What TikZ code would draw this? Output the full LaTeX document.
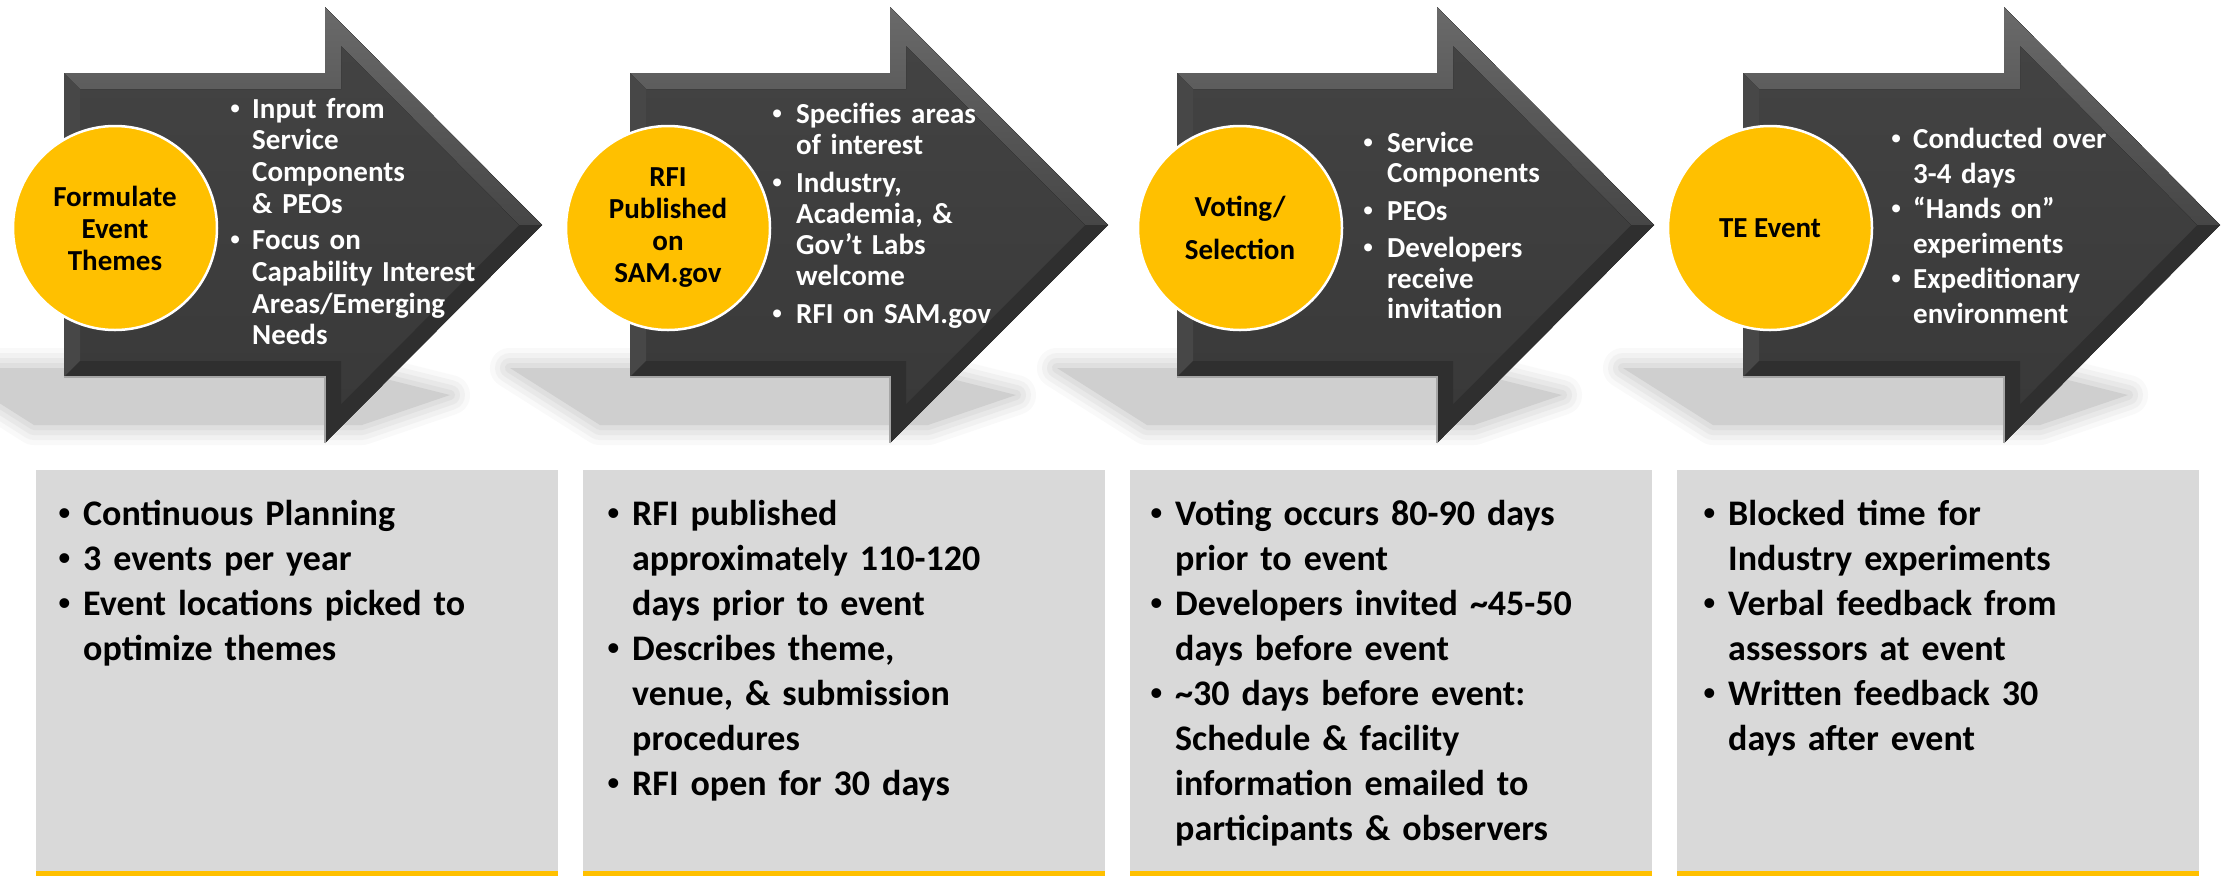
\documentclass[tikz,border=0pt]{standalone}
\usepackage{fontspec}
\setmainfont{Carlito}
\newfontfamily\bulfont{Liberation Sans}
\definecolor{gold}{HTML}{FFC000}
\definecolor{facetop}{HTML}{444444}
\definecolor{facebot}{HTML}{383838}
\definecolor{beveltop}{HTML}{6A6A6A}
\definecolor{bevelmid}{HTML}{464646}
\definecolor{bevelleft}{HTML}{474747}
\definecolor{bevelbot}{HTML}{2F2F2F}
\definecolor{boxgray}{HTML}{D9D9D9}
\definecolor{shadowgray}{HTML}{CFCFCF}
\newlength{\bw}
\newcommand{\bul}{\makebox[\bw][l]{{\bulfont\mdseries\textbullet}}}
\newcommand{\ind}{\hspace*{\bw}}
\newcommand{\arrowshadow}[2]{%
  \foreach \w/\o in {40/0.12,30/0.18,20/0.25,10/0.35}{%
    \draw[shadowgray, line width=\w pt, line join=round, opacity=\o]
      ({#1-120},368) -- ({#2-200},368) -- ({#2-92},395) -- ({#2-180},425) -- ({#1-30},425) -- cycle;}
  \fill[shadowgray] ({#1-120},368) -- ({#2-200},368) -- ({#2-92},395) -- ({#2-180},425) -- ({#1-30},425) -- cycle;}
\newcommand{\bigarrow}[3]{%
  \fill[top color=facetop, bottom color=facebot]
    (#1,73) -- (#2,73) -- (#2,7) -- (#3,225) -- (#2,443) -- (#2,377) -- (#1,377) -- cycle;
  \fill[top color=beveltop, bottom color=bevelmid]
    (#1,73) -- (#2,73) -- (#2,7) -- (#3,225) -- ({#3-22.6},225) -- ({#2+16},45.6) -- ({#2+16},89) -- ({#1+16},89) -- cycle;
  \fill[bevelleft] (#1,73) -- ({#1+16},89) -- ({#1+16},361) -- (#1,377) -- cycle;
  \fill[bevelbot] (#1,377) -- ({#1+16},361) -- ({#2+16},361) -- ({#2+16},404.4) -- ({#3-22.6},225) -- (#3,225) -- (#2,443) -- (#2,377) -- cycle;
  \draw[gray!70, line width=1.2pt] (#1,377) -- (#2,377) -- (#2,443);}
\tikzset{
  goldcircle/.style={circle, fill=gold, draw=white, line width=2.5pt, minimum size=204pt, inner sep=0pt,
    align=center, text=black, font=\bfseries\fontsize{29}{32}\selectfont},
  arrowtext/.style={anchor=base west, inner sep=0pt, text width=300pt, align=left, text=white},
  graybox/.style={fill=boxgray, anchor=north west, minimum width=522pt, minimum height=406pt, inner sep=0pt},
  boxtext/.style={anchor=base west, inner sep=0pt, text width=500pt, align=left, text=black,
    font=\bfseries\fontsize{36}{45}\selectfont}
}
\begin{document}
\begin{tikzpicture}[x=1pt, y=-1pt]
\useasboundingbox (0,0) rectangle (2223,876);
\fill[white] (0,0) rectangle (2223,876);
% shadows
\arrowshadow{64}{542}
\arrowshadow{630}{1108}
\arrowshadow{1177}{1654}
\arrowshadow{1743}{2220}
% arrows
\bigarrow{64}{325}{542}
\bigarrow{630}{890}{1108}
\bigarrow{1177}{1437}{1654}
\bigarrow{1743}{2004}{2220}
% circles
\node[goldcircle] (c1) at (115,228) {Formulate\\Event\\Themes};
\node[goldcircle] (c2) at (668,228) {RFI\\Published\\on\\SAM.gov};
\node[goldcircle] (c3) at (1240,228) {Voting/\\[11pt]Selection};
\node[goldcircle] (c4) at (1770,228) {TE Event};
% arrow texts
\node[arrowtext, font=\bfseries\fontsize{29}{31.7}\selectfont] (t1) at (230,118)
  {\setlength{\bw}{22pt}\bul Input from\\\ind Service\\\ind Components\\\ind \& PEOs\\[5pt]\bul Focus on\\\ind Capability Interest\\\ind Areas/Emerging\\\ind Needs};
\node[arrowtext, font=\bfseries\fontsize{29}{31}\selectfont] (t2) at (772,123)
  {\setlength{\bw}{24pt}\bul Specifies areas\\\ind of interest\\[7pt]\bul Industry,\\\ind Academia, \&\\\ind Gov’t Labs\\\ind welcome\\[7pt]\bul RFI on SAM.gov};
\node[arrowtext, font=\bfseries\fontsize{29}{30.5}\selectfont] (t3) at (1363,152)
  {\setlength{\bw}{24pt}\bul Service\\\ind Components\\[7pt]\bul PEOs\\[7pt]\bul Developers\\\ind receive\\\ind invitation};
\node[arrowtext, font=\bfseries\fontsize{29}{35}\selectfont] (t4) at (1891,148)
  {\setlength{\bw}{22pt}\bul Conducted over\\\ind 3-4 days\\\bul “Hands on”\\\ind experiments\\\bul Expeditionary\\\ind environment};
% bottom boxes
\node[graybox] (b1) at (36,470) {};
\node[graybox] (b2) at (583,470) {};
\node[graybox] (b3) at (1130,470) {};
\node[graybox] (b4) at (1677,470) {};
\foreach \b in {b1,b2,b3,b4}{\fill[gold] ([yshift=5pt]\b.south west) rectangle (\b.south east);}
\node[boxtext] (bt1) at (58,525)
  {\setlength{\bw}{25pt}\bul Continuous Planning\\\bul 3 events per year\\\bul Event locations picked to\\\ind optimize themes};
\node[boxtext] (bt2) at (607,525)
  {\setlength{\bw}{25pt}\bul RFI published\\\ind approximately 110-120\\\ind days prior to event\\\bul Describes theme,\\\ind venue, \& submission\\\ind procedures\\\bul RFI open for 30 days};
\node[boxtext] (bt3) at (1150,525)
  {\setlength{\bw}{25pt}\bul Voting occurs 80-90 days\\\ind prior to event\\\bul Developers invited \textasciitilde 45-50\\\ind days before event\\\bul \textasciitilde 30 days before event:\\\ind Schedule \& facility\\\ind information emailed to\\\ind participants \& observers};
\node[boxtext] (bt4) at (1703,525)
  {\setlength{\bw}{25pt}\bul Blocked time for\\\ind Industry experiments\\\bul Verbal feedback from\\\ind assessors at event\\\bul Written feedback 30\\\ind days after event};
\end{tikzpicture}
\end{document}
